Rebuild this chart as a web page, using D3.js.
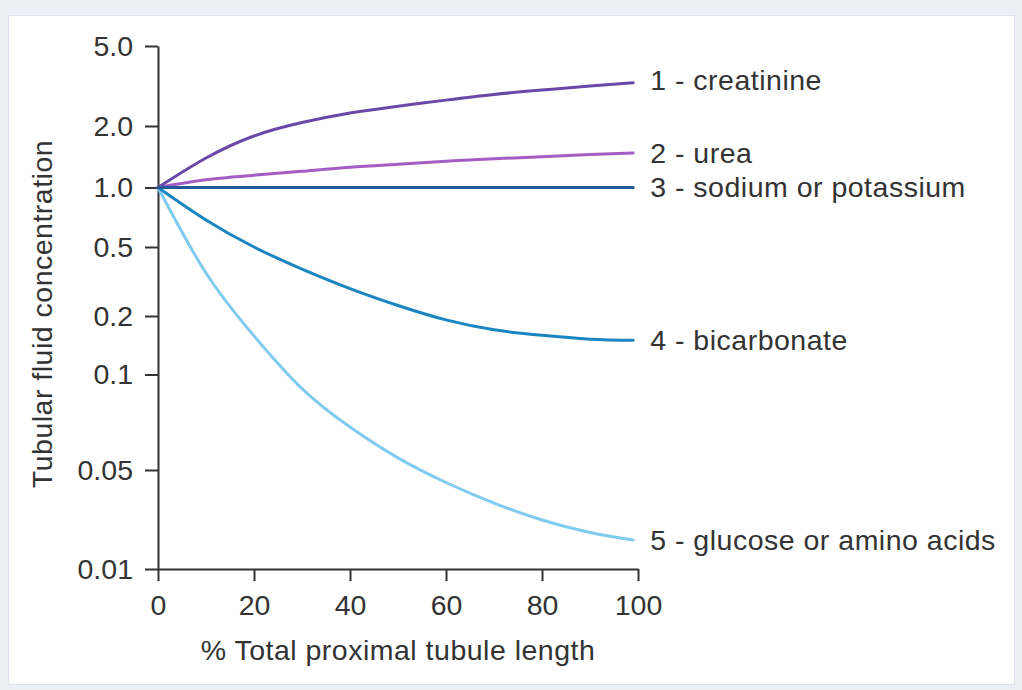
<html>
<head>
  <style>
  body {
    margin: 0;
    background: #edeff6;
  }
  svg text {
    font-family: "Liberation Sans", Arial, sans-serif;
    fill: #333;
  }
  .axis path, .axis line {
    stroke: #333;
    stroke-width: 2;
  }
  .axis text {
    font-size: 28.5px;
  }
  .title, .label {
    font-size: 28.5px;
    letter-spacing: 0.5px;
  }
  </style>
</head>
<body>
  <div id="elm"></div>
  <script src="https://d3js.org/d3.v7.min.js"></script>
  <script>
  'use strict';

  // data
  var xPct = [0, 10, 20, 30, 40, 50, 60, 70, 80, 90, 99];
  var creatinine = [1.0, 1.394, 1.787, 2.08, 2.32, 2.51, 2.69, 2.87, 3.02, 3.16, 3.28];
  var urea = [1.0, 1.09, 1.148, 1.20, 1.256, 1.30, 1.345, 1.383, 1.414, 1.45, 1.476];
  var sodium = [1.0, 1.0, 1.0, 1.0, 1.0, 1.0, 1.0, 1.0, 1.0, 1.0, 1.0];
  var bicarbonate = [1.0, 0.685, 0.5, 0.373, 0.288, 0.230, 0.191, 0.170, 0.159, 0.152, 0.150];
  var glucose = [1.0, 0.354, 0.158, 0.0903, 0.0683, 0.0546, 0.0408, 0.0292, 0.0222, 0.0181, 0.016];

  var seriesNames = ['1 - creatinine', '2 - urea', '3 - sodium or potassium', '4 - bicarbonate', '5 - glucose or amino acids'];
  var seriesColors = ['#6a48a8', '#a55cc4', '#1e5a96', '#1b85c0', '#80cbf0'];
  var seriesValues = [creatinine, urea, sodium, bicarbonate, glucose];

  var yTicks = [0.01, 0.05, 0.1, 0.2, 0.5, 1.0, 2.0, 5.0];
  var yTickLabels = ['0.01', '0.05', '0.1', '0.2', '0.5', '1.0', '2.0', '5.0'];
  var xTicks = [0, 20, 40, 60, 80, 100];

  var width = 1022,
      height = 690;

  var svg = d3.select('#elm').append('svg')
    .attr('width', width).attr('height', height)
    .style('display', 'block');

  // frame
  svg.append('rect')
    .attr('x', 8.5).attr('y', 15.5)
    .attr('width', 1006).attr('height', 669)
    .attr('fill', '#fff').attr('stroke', '#dfe2ee').attr('stroke-width', 1);

  var x = d3.scaleLinear().domain([0, 100]).range([158, 638]);

  // the printed axis is not a true log axis, so map log values piecewise
  var y = d3.scaleLinear()
    .domain(yTicks.map(Math.log10))
    .range([569, 470, 374.5, 316, 247, 187.5, 126, 46]);

  var yAxis = d3.axisLeft(y)
    .tickValues(yTicks.map(Math.log10))
    .tickFormat(function(d, i) { return yTickLabels[i]; })
    .tickSize(13).tickSizeOuter(0).tickPadding(12);

  svg.append('g').attr('class', 'axis')
    .attr('transform', 'translate(' + x(0) + ',0)')
    .call(yAxis);

  var xAxis = d3.axisBottom(x)
    .tickValues(xTicks)
    .tickSize(12).tickSizeOuter(0).tickPadding(14);

  svg.append('g').attr('class', 'axis')
    .attr('transform', 'translate(0,' + y(Math.log10(0.01)) + ')')
    .call(xAxis);

  svg.append('text')
    .attr('class', 'title')
    .attr('x', (x(0) + x(100)) / 2).attr('y', 660)
    .attr('text-anchor', 'middle')
    .text('% Total proximal tubule length');

  svg.append('text')
    .attr('class', 'title')
    .attr('transform', 'translate(52,314) rotate(-90)')
    .attr('text-anchor', 'middle')
    .text('Tubular fluid concentration');

  var line = d3.line()
    .x(function(d, i) { return x(xPct[i]); })
    .y(function(d) { return y(Math.log10(d)); })
    .curve(d3.curveNatural);

  // darker lines sit on top near the origin
  var order = [4, 3, 1, 0, 2];
  order.forEach(function(k) {
    svg.append('path')
      .datum(seriesValues[k])
      .attr('d', line)
      .attr('fill', 'none')
      .attr('stroke', seriesColors[k])
      .attr('stroke-width', 3)
      .attr('stroke-linecap', 'round');
  });

  svg.selectAll('text.label')
    .data(seriesNames)
    .enter().append('text')
    .attr('class', 'label')
    .attr('x', x(xPct[xPct.length - 1]) + 17)
    .attr('y', function(d, i) {
      var v = seriesValues[i];
      return y(Math.log10(v[v.length - 1])) - (i === 0 ? 3 : 0);
    })
    .attr('dy', '0.35em')
    .text(function(d) { return d; });
  </script>
</body>
</html>
